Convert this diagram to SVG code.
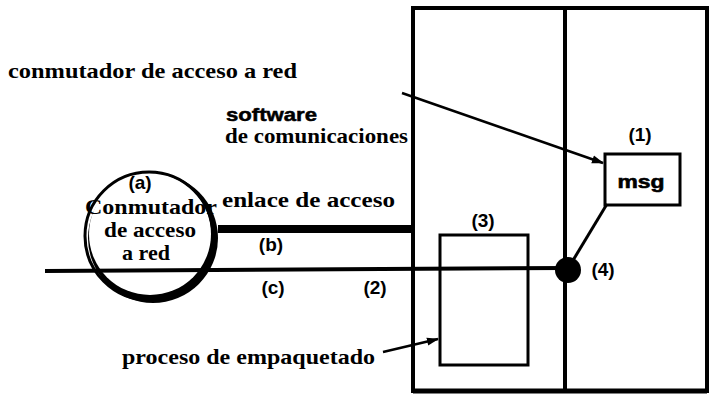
<svg xmlns="http://www.w3.org/2000/svg" width="712" height="400" viewBox="0 0 712 400">
<defs>
<style>
.serif{font-family:"Liberation Serif","Times New Roman",serif;font-weight:bold;font-size:21px;fill:#000}
.sans{font-family:"Liberation Sans",Arial,sans-serif;font-weight:bold;font-size:19px;fill:#000}
.ln{stroke:#000;fill:none;stroke-linecap:butt}
</style>
<marker id="ah" viewBox="0 0 12 10" refX="11" refY="5" markerWidth="5" markerHeight="4" orient="auto" markerUnits="strokeWidth">
<path d="M0,1 L12,5 L0,9 z" fill="#000"/>
</marker>
</defs>
<rect width="712" height="400" fill="#fff"/>

<g id="node-computer">
<rect x="413" y="8" width="294" height="383" class="ln" stroke-width="4"/>
<line x1="413" y1="391" x2="707" y2="391" class="ln" stroke-width="5"/>
<line x1="565" y1="8" x2="565" y2="391" class="ln" stroke-width="4"/>
</g>

<g id="node-switch">
<circle cx="153" cy="238" r="65" fill="#000"/>
<circle cx="150" cy="234" r="61" fill="#fff"/>
<circle cx="149" cy="236" r="64" fill="none" stroke="#000" stroke-width="3"/>
</g>

<g id="connectors">
<line x1="218" y1="229" x2="413" y2="229" class="ln" stroke-width="8"/>
<line x1="45" y1="271" x2="567" y2="268" class="ln" stroke-width="4"/>
<line x1="572" y1="262" x2="607" y2="204" class="ln" stroke-width="3"/>
<line x1="402" y1="93" x2="603" y2="163" class="ln" stroke-width="2.5" marker-end="url(#ah)"/>
<line x1="383" y1="352" x2="438" y2="339" class="ln" stroke-width="2.5" marker-end="url(#ah)"/>
</g>

<g id="node-packer">
<rect x="440" y="235" width="88" height="130" class="ln" stroke-width="3"/>
</g>

<g id="node-msg">
<rect x="605" y="154" width="75" height="51" class="ln" stroke-width="3"/>
<text class="sans" x="641" y="188" text-anchor="middle" font-size="21" font-weight="normal" textLength="47" lengthAdjust="spacingAndGlyphs" stroke="#000" stroke-width="0.6">msg</text>
</g>

<g id="node-junction">
<circle cx="568" cy="270" r="13" fill="#000"/>
</g>

<g id="labels">
<text class="serif" x="8" y="78" font-size="22" textLength="289" lengthAdjust="spacingAndGlyphs">conmutador de acceso a red</text>
<text class="sans" x="226" y="121" font-size="20" font-weight="normal" stroke="#000" stroke-width="0.5" textLength="91" lengthAdjust="spacingAndGlyphs">software</text>
<text class="serif" x="225" y="143" textLength="183" lengthAdjust="spacingAndGlyphs">de comunicaciones</text>
<text class="sans" x="640" y="141" text-anchor="middle">(1)</text>
<text class="sans" x="140" y="189" text-anchor="middle">(a)</text>
<text class="serif" x="85" y="214" font-size="19" textLength="132" lengthAdjust="spacingAndGlyphs">Conmutador</text>
<text class="serif" x="104" y="237" font-size="19" textLength="92" lengthAdjust="spacingAndGlyphs">de acceso</text>
<text class="serif" x="122" y="260" font-size="19" textLength="48" lengthAdjust="spacingAndGlyphs">a red</text>
<text class="serif" x="222" y="207" textLength="173" lengthAdjust="spacingAndGlyphs">enlace de  acceso</text>
<text class="sans" x="271" y="251" text-anchor="middle">(b)</text>
<text class="sans" x="273" y="294" text-anchor="middle">(c)</text>
<text class="sans" x="375" y="294" text-anchor="middle">(2)</text>
<text class="sans" x="483" y="227" text-anchor="middle">(3)</text>
<text class="sans" x="603" y="276" text-anchor="middle">(4)</text>
<text class="serif" x="122" y="364" textLength="253" lengthAdjust="spacingAndGlyphs">proceso de empaquetado</text>
</g>
</svg>
